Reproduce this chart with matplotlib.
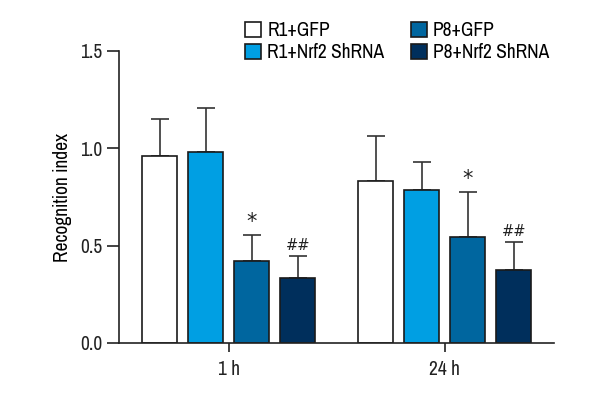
import matplotlib
matplotlib.use("Agg")
import matplotlib.pyplot as plt
import numpy as np
from matplotlib import font_manager
from matplotlib.patches import Patch

names = sorted({f.name for f in font_manager.fontManager.ttflist})
narrow = [n for n in names if 'Narrow' in n or 'Condensed' in n]
fam = narrow[0] if narrow else 'Liberation Sans'
plt.rcParams['font.family'] = [fam, 'DejaVu Sans']

groups = ["1 h", "24 h"]
series = ["R1+GFP", "R1+Nrf2 ShRNA", "P8+GFP", "P8+Nrf2 ShRNA"]
means = {
    "R1+GFP":        [0.96, 0.83],
    "R1+Nrf2 ShRNA": [0.98, 0.785],
    "P8+GFP":        [0.42, 0.545],
    "P8+Nrf2 ShRNA": [0.335, 0.375],
}
errs = {
    "R1+GFP":        [0.19, 0.235],
    "R1+Nrf2 ShRNA": [0.225, 0.145],
    "P8+GFP":        [0.135, 0.23],
    "P8+Nrf2 ShRNA": [0.113, 0.142],
}
marks = {
    "P8+GFP":        ["*", "*"],
    "P8+Nrf2 ShRNA": ["##", "##"],
}
colors = ["#ffffff", "#009fe3", "#00669f", "#002f5c"]

fig = plt.figure(figsize=(6, 4), dpi=100)
ax = fig.add_axes([0.198, 0.1425, 0.725, 0.73])

x = np.arange(len(groups))
w = 0.162
step = 0.213
for i, s in enumerate(series):
    pos = x + (i - 1.5) * step
    ax.bar(pos, means[s], width=w, color=colors[i], edgecolor="#1a1a1a",
           linewidth=1.2, zorder=2)
    ax.errorbar(pos, means[s], yerr=[np.zeros(len(groups)), errs[s]],
                fmt="none", ecolor="#333333", elinewidth=1.2, capsize=6.3,
                capthick=1.2, zorder=1)
    if s in marks:
        for j, m in enumerate(marks[s]):
            if m == "*":
                ax.text(pos[j], means[s][j] + errs[s][j] + 0.067, m,
                        ha="center", va="center", fontsize=15,
                        family="DejaVu Sans", color="#222222")
            else:
                ax.text(pos[j], means[s][j] + errs[s][j] + 0.055, m,
                        ha="center", va="center", fontsize=10.5,
                        family="DejaVu Sans", color="#222222")

ax.set_xlim(-0.509, 1.505)
ax.set_ylim(0, 1.5)
ax.set_yticks([0, 0.5, 1.0, 1.5])
ax.set_yticklabels(["0.0", "0.5", "1.0", "1.5"])
ax.set_xticks(x)
ax.set_xticklabels(groups)
for sp in ["top", "right"]:
    ax.spines[sp].set_visible(False)
for sp in ["left", "bottom"]:
    ax.spines[sp].set_linewidth(1.2)
    ax.spines[sp].set_color("#222222")
ax.tick_params(axis="y", length=9, width=1.2, labelsize=14, pad=3, colors="#222222")
ax.tick_params(axis="x", length=6.5, width=1.2, labelsize=14, pad=6, colors="#222222")
ax.set_ylabel("Recognition index", fontsize=14, labelpad=5.5)

handles = [Patch(facecolor=colors[i], edgecolor="#1a1a1a", linewidth=1.2) for i in range(4)]
fig.legend(handles, series, ncol=2, loc="upper left", bbox_to_anchor=(0.408, 0.947),
           frameon=False, fontsize=14, handlelength=0.85, handleheight=0.85,
           handletextpad=0.3, columnspacing=1.35, labelspacing=0.15, borderpad=0,
           borderaxespad=0)

fig.savefig("out.png", dpi=100)
